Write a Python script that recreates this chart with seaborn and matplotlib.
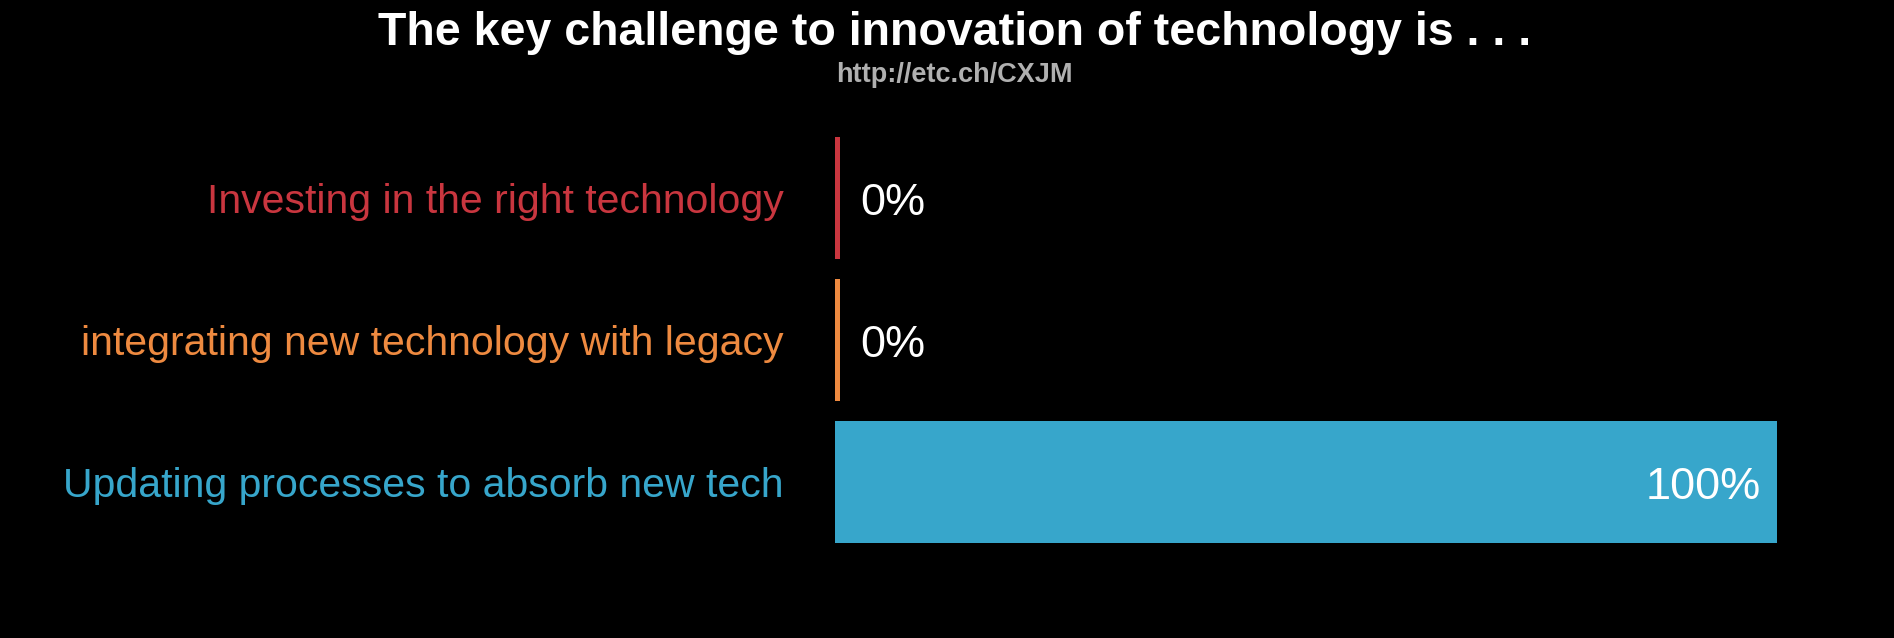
import matplotlib
matplotlib.use("Agg")
import matplotlib.pyplot as plt
import seaborn as sns
import pandas as pd

# --- dados ---
categories = [
    "Investing in the right technology",
    "integrating new technology with legacy",
    "Updating processes to absorb new tech",
]
values = [0, 0, 100]
colors = ["#c9363f", "#ee8a40", "#37a6cb"]
value_labels = ["0%", "0%", "100%"]

title = "The key challenge to innovation of technology is . . ."
subtitle = "http://etc.ch/CXJM"

df = pd.DataFrame({"Opcao": categories, "Valor": values})

sns.set_theme(style="dark", rc={
    "axes.facecolor": "black",
    "figure.facecolor": "black",
    "axes.edgecolor": "black",
})
plt.rcParams["font.family"] = ["Liberation Sans", "DejaVu Sans"]

fig = plt.figure(figsize=(18.94, 6.38), dpi=100)
ax = fig.add_axes([835 / 1894, 85 / 638, 942 / 1894, 426 / 638])

sns.barplot(
    data=df, x="Valor", y="Opcao", hue="Opcao", palette=colors,
    orient="h", width=0.86, legend=False, ax=ax, saturation=1,
    linewidth=0,
)
# largura mínima visível para as barras de 0% (como no original)
min_w = 0.55
for patch in ax.patches:
    if patch.get_width() < min_w:
        patch.set_width(min_w)

ax.set_xlim(0, 100)
ax.set_ylim(2.5, -0.5)
ax.set_xlabel("")
ax.set_ylabel("")
ax.set_xticks([])
ax.tick_params(axis="y", length=0, pad=37, labelsize=29.5)
for lbl, c in zip(ax.get_yticklabels(), colors):
    lbl.set_color(c)
for s in ax.spines.values():
    s.set_visible(False)
ax.grid(False)

# rótulos de valor
for i, (v, txt) in enumerate(zip(values, value_labels)):
    if v >= 50:
        ax.annotate(txt, xy=(v, i), xytext=(-11.5, -12), textcoords="offset points",
                    ha="right", va="baseline", color="white", fontsize=32.5)
    else:
        ax.annotate(txt, xy=(v, i), xytext=(18.5, -12), textcoords="offset points",
                    ha="left", va="baseline", color="white", fontsize=32.5)

fig.text(955 / 1894, 1 - 33 / 638, title, ha="center", va="center",
         color="white", fontsize=33.5, fontweight="bold")
fig.text(954 / 1894, 1 - 75 / 638, subtitle, ha="center", va="center",
         color="#b0b0b0", fontsize=19.5, fontweight="bold")

fig.savefig("out.png", dpi=100, facecolor="black")
